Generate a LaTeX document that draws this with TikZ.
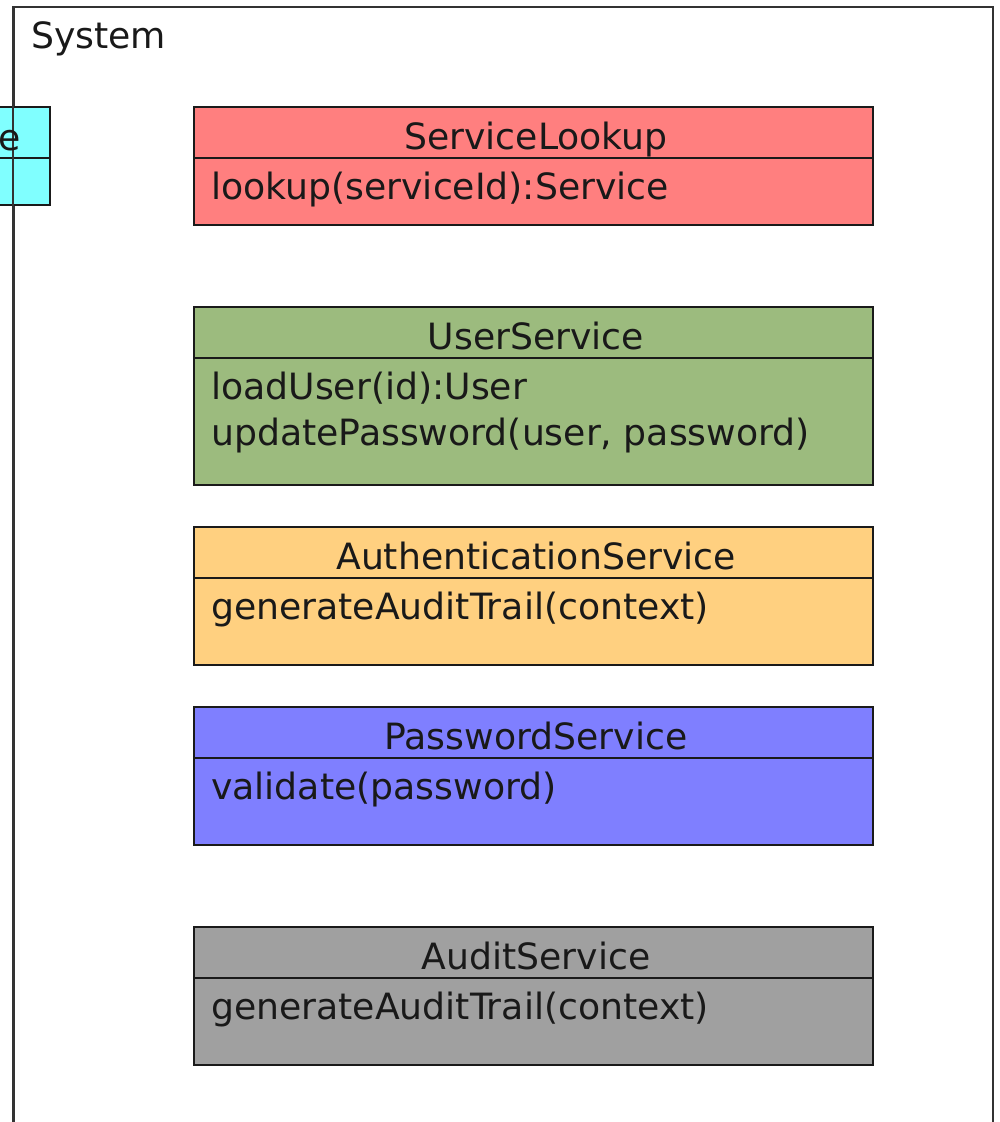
\documentclass[tikz,border=0pt]{standalone}
\usepackage{fontspec}
\setmainfont{DejaVu Sans}
\definecolor{cRed}{HTML}{FF7F7F}
\definecolor{cGreen}{HTML}{9CBB7E}
\definecolor{cOrange}{HTML}{FFD080}
\definecolor{cBlue}{HTML}{7F7FFF}
\definecolor{cGray}{HTML}{A0A0A0}
\definecolor{cCyan}{HTML}{80FFFF}
\definecolor{cLine}{HTML}{1A1A1A}
\begin{document}
\begin{tikzpicture}[x=1pt,y=-1pt,
  umlbox/.style={draw=cLine, line width=1.7pt, rectangle, inner sep=0pt, minimum width=679pt},
  divline/.style={draw=cLine, line width=1.7pt},
  txt/.style={inner sep=0pt, font=\fontsize{36.2}{46}\selectfont, text=black!90},
  title/.style={txt, anchor=base},
  meth/.style={txt, anchor=base west}]
\useasboundingbox (0,0) rectangle (1000,1122);
\clip (0,0) rectangle (1000,1122);
% system frame
\node (frame) [draw=black!80, line width=2pt, rectangle, inner sep=0pt, minimum width=979pt, minimum height=1150pt, anchor=north west] at (13,6) {};
\node (systxt) [txt, anchor=base west] at (31,48) {System};
% cyan partial box
\node (cyan) [draw=cLine, fill=cCyan, line width=1.7pt, rectangle, inner sep=0pt, minimum width=71pt, minimum height=98pt, anchor=north east] at (51,106) {};
\draw[divline] (-30,158) -- (51,158);
\draw[black!80, line width=2pt] (13,6) -- (13,1122);
\node (cyant) [title, anchor=base east] at (21,150) {e};
% ServiceLookup
\node (sl) [umlbox, fill=cRed, minimum height=118pt, anchor=north west] at (193,106) {};
\draw[divline] (sl.west |- 0,158) -- (sl.east |- 0,158);
\node (slt) [title] at (536,149) {ServiceLookup};
\node (slm) [meth] at (211,199) {lookup(serviceId):Service};
% UserService
\node (us) [umlbox, fill=cGreen, minimum height=178pt, anchor=north west] at (193,306) {};
\draw[divline] (us.west |- 0,358) -- (us.east |- 0,358);
\node (ust) [title] at (536,349) {UserService};
\node (usm1) [meth] at (211,399) {loadUser(id):User};
\node (usm2) [meth] at (211,445) {updatePassword(user, password)};
% AuthenticationService
\node (as) [umlbox, fill=cOrange, minimum height=138pt, anchor=north west] at (193,526) {};
\draw[divline] (as.west |- 0,578) -- (as.east |- 0,578);
\node (ast) [title] at (536,569) {AuthenticationService};
\node (asm) [meth] at (211,619) {generateAuditTrail(context)};
% PasswordService
\node (ps) [umlbox, fill=cBlue, minimum height=138pt, anchor=north west] at (193,706) {};
\draw[divline] (ps.west |- 0,758) -- (ps.east |- 0,758);
\node (pst) [title] at (536,749) {PasswordService};
\node (psm) [meth] at (211,799) {validate(password)};
% AuditService
\node (au) [umlbox, fill=cGray, minimum height=138pt, anchor=north west] at (193,926) {};
\draw[divline] (au.west |- 0,978) -- (au.east |- 0,978);
\node (aut) [title] at (536,969) {AuditService};
\node (aum) [meth] at (211,1019) {generateAuditTrail(context)};
\end{tikzpicture}
\end{document}
